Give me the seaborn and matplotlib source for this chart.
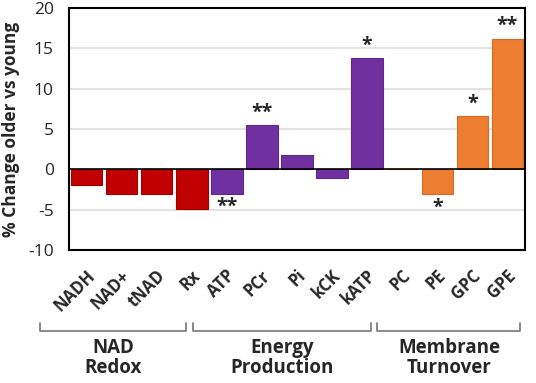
import matplotlib
matplotlib.use("Agg")
import matplotlib.pyplot as plt
from matplotlib.lines import Line2D
import matplotlib.transforms as mtransforms
import seaborn as sns
import pandas as pd

categories = ["NADH", "NAD+", "tNAD", "Rx", "ATP", "PCr", "Pi", "kCK", "kATP", "PC", "PE", "GPC", "GPE"]
values = [-2.0, -3.1, -3.0, -4.95, -3.0, 5.45, 1.8, -1.1, 13.8, 0.0, -3.1, 6.6, 16.2]
groups = ["NAD", "NAD", "NAD", "NAD", "Energy", "Energy", "Energy", "Energy", "Energy",
          "Membrane", "Membrane", "Membrane", "Membrane"]
stars = ["", "", "", "", "**", "**", "", "", "*", "", "*", "*", "**"]
group_labels = ["NAD\nRedox", "Energy\nProduction", "Membrane\nTurnover"]
yticks = [-10, -5, 0, 5, 10, 15, 20]

palette = {"NAD": "#C00000", "Energy": "#7030A0", "Membrane": "#ED7D31"}
edges = {"NAD": "#A00000", "Energy": "#5E2888", "Membrane": "#D66A22"}

df = pd.DataFrame({"cat": categories, "val": values, "grp": groups})

sns.set_style("white")
plt.rcParams['font.family'] = ['Open Sans', 'DejaVu Sans']

W, H = 536, 383
fig = plt.figure(figsize=(W / 100, H / 100), dpi=100)
AX_L, AX_R, AX_T, AX_B = 69, 525, 8, 250
ax = fig.add_axes([AX_L / W, 1 - AX_B / H, (AX_R - AX_L) / W, (AX_B - AX_T) / H])

sns.barplot(data=df, x="cat", y="val", hue="grp", palette=palette, dodge=False,
            width=0.9, saturation=1, legend=False, ax=ax, zorder=3)
for patch, g in zip(ax.patches, groups):
    patch.set_edgecolor(edges[g])
    patch.set_linewidth(0.8)

ax.set_ylim(-10, 20)
ax.set_xlim(-0.5, len(categories) - 0.5)
ax.set_yticks(yticks)
ax.set_yticklabels([str(t) for t in yticks], fontsize=12.5)
ax.tick_params(axis='y', length=0, pad=11)
ax.tick_params(axis='x', length=0)
for t in [-5, 5, 10, 15]:
    ax.axhline(t, color="#E3E3E3", lw=1.5, zorder=1)
ax.axhline(0, color="black", lw=1.2, zorder=4)
for s in ax.spines.values():
    s.set_visible(True)
    s.set_color("black")
    s.set_linewidth(1.5)

ax.set_xlabel("")
ax.set_ylabel("% Change older vs young", fontsize=12.5, fontweight='bold', labelpad=6)
ax.set_xticks(range(len(categories)))
ax.set_xticklabels(categories, rotation=45, ha='right', va='center',
                   rotation_mode='anchor', fontsize=12, fontweight='bold')
for lab in ax.get_xticklabels():
    lab.set_transform(lab.get_transform() + mtransforms.ScaledTranslation(4/72, -13/72, fig.dpi_scale_trans))

for i, (v, s) in enumerate(zip(values, stars)):
    if not s:
        continue
    if v >= 0:
        ax.text(i, v + 0.3, s, ha='center', va='bottom', fontsize=14, fontweight='bold')
    else:
        ax.text(i, v - 0.4, s, ha='center', va='top', fontsize=14, fontweight='bold')

# group brackets, in figure pixel coordinates
brackets_px = [(40, 186), (193, 371), (377, 520)]
centers_px = [113, 282, 449]
y_line = 1 - 330.5 / H
y_tick = 1 - 322.5 / H
for (x0, x1), c, lab in zip(brackets_px, centers_px, group_labels):
    fig.add_artist(Line2D([x0 / W, x0 / W, x1 / W, x1 / W], [y_tick, y_line, y_line, y_tick],
                          transform=fig.transFigure, color="#7F7F7F", lw=1.3))
    fig.text(c / W, 1 - 358 / H, lab, ha='center', va='center',
             fontsize=13.5, fontweight='bold', linespacing=1.05)

fig.savefig("out.png", dpi=100)
